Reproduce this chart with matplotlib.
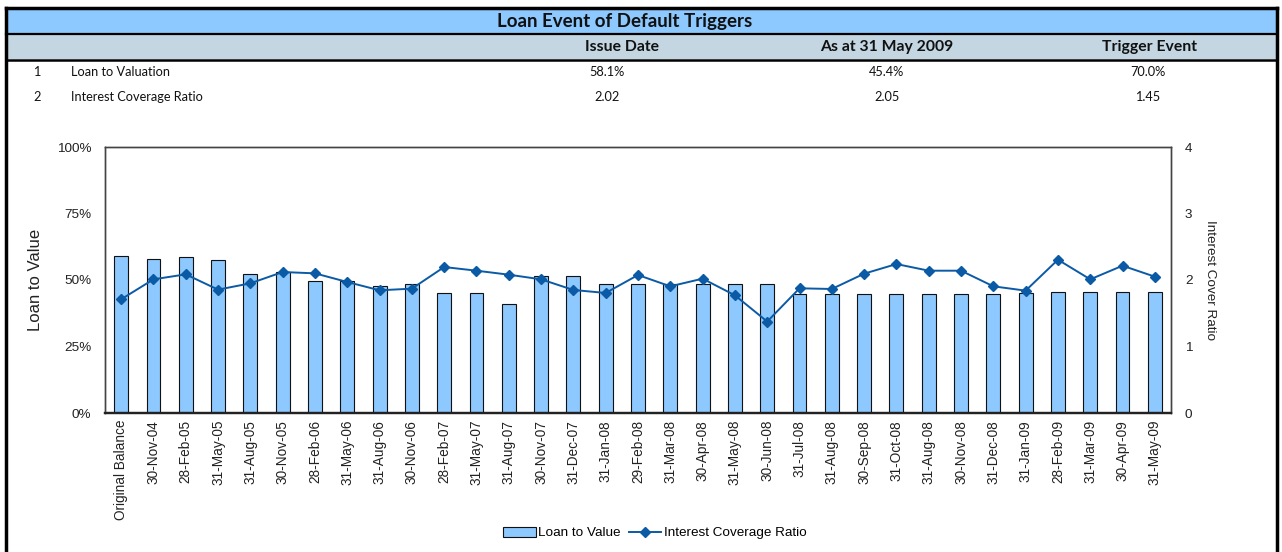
import matplotlib
matplotlib.use("Agg")
import matplotlib.pyplot as plt
import numpy as np
from matplotlib.patches import Rectangle
from matplotlib.lines import Line2D

categories = ["Original Balance", "30-Nov-04", "28-Feb-05", "31-May-05", "31-Aug-05",
              "30-Nov-05", "28-Feb-06", "31-May-06", "31-Aug-06", "30-Nov-06",
              "28-Feb-07", "31-May-07", "31-Aug-07", "30-Nov-07", "31-Dec-07",
              "31-Jan-08", "29-Feb-08", "31-Mar-08", "30-Apr-08", "31-May-08",
              "30-Jun-08", "31-Jul-08", "31-Aug-08", "30-Sep-08", "31-Oct-08",
              "31-Aug-08", "30-Nov-08", "31-Dec-08", "31-Jan-09", "28-Feb-09",
              "31-Mar-09", "30-Apr-09", "31-May-09"]

loan_to_value = [59.0, 58.0, 58.7, 57.6, 52.4, 53.0, 49.6, 49.6, 47.9, 48.6,
                 45.3, 45.3, 41.1, 51.6, 51.6, 48.6, 48.6, 48.6, 48.6, 48.6,
                 48.6, 44.6, 44.6, 44.6, 44.6, 44.6, 44.6, 44.6, 45.3, 45.4,
                 45.4, 45.4, 45.4]

icr = [1.71, 2.01, 2.085, 1.855, 1.95, 2.12, 2.10, 1.97, 1.845, 1.87,
       2.195, 2.14, 2.08, 2.01, 1.85, 1.805, 2.075, 1.905, 2.02, 1.77,
       1.375, 1.875, 1.865, 2.095, 2.24, 2.14, 2.14, 1.905, 1.84, 2.305,
       2.01, 2.215, 2.05]

table_header = ["Issue Date", "As at 31 May 2009", "Trigger Event"]
table_rows = [["1", "Loan to Valuation", "58.1%", "45.4%", "70.0%"],
              ["2", "Interest Coverage Ratio", "2.02", "2.05", "1.45"]]

W, H = 1282, 552
fig = plt.figure(figsize=(W / 100, H / 100), dpi=100)

def fx(px):
    return px / W

def fy(py):
    return 1 - py / H

# Outer frame
fig.add_artist(Line2D([fx(6), fx(6)], [fy(8), fy(552)], color="black", lw=2.5, transform=fig.transFigure))
fig.add_artist(Line2D([fx(1277), fx(1277)], [fy(8), fy(552)], color="black", lw=2.5, transform=fig.transFigure))
fig.add_artist(Line2D([fx(6), fx(1277)], [fy(8), fy(8)], color="black", lw=2.5, transform=fig.transFigure))

# Title bar and header band
fig.add_artist(Rectangle((fx(7), fy(33)), fx(1270), (33 - 9) / H, facecolor="#8DC8FE",
                         edgecolor="none", transform=fig.transFigure))
fig.add_artist(Rectangle((fx(7), fy(59)), fx(1270), (59 - 34) / H, facecolor="#C3D6E1",
                         edgecolor="none", transform=fig.transFigure))
fig.add_artist(Line2D([fx(6), fx(1277)], [fy(33.5), fy(33.5)], color="black", lw=1.6, transform=fig.transFigure))
fig.add_artist(Line2D([fx(6), fx(1277)], [fy(59.5), fy(59.5)], color="black", lw=1.8, transform=fig.transFigure))

fig.text(fx(625), fy(21), "Loan Event of Default Triggers", ha="center", va="center",
         fontsize=13.5, fontweight="bold", family="Lato", color="#111111")
for txt, x in zip(table_header, [622, 887, 1150]):
    fig.text(fx(x), fy(47), txt, ha="center", va="center", fontsize=11.3,
             fontweight="bold", family="Lato", color="#111111")

for row, y in zip(table_rows, [72, 97]):
    fig.text(fx(37), fy(y), row[0], ha="center", va="center", fontsize=9.2, family="Lato", color="#111111")
    fig.text(fx(71), fy(y), row[1], ha="left", va="center", fontsize=9.2, family="Lato", color="#111111")
    for v, x in zip(row[2:], [607, 887, 1148]):
        fig.text(fx(x), fy(y), v, ha="center", va="center", fontsize=9.2, family="Lato", color="#111111")

# Chart
ax = fig.add_axes([fx(105), 1 - 413 / H, (1171 - 105) / W, (413 - 147) / H])
x = np.arange(len(categories))
ax.bar(x, loan_to_value, width=0.43, color="#8DC8FE", edgecolor="#111111", linewidth=0.8,
       label="Loan to Value", zorder=2)
ax.set_xlim(-0.5, len(categories) - 0.5)
ax.set_ylim(0, 100)
ax.set_yticks([0, 25, 50, 75, 100])
ax.set_yticklabels(["0%", "25%", "50%", "75%", "100%"], fontsize=9.7, family="Liberation Sans", color="#222222")
ax.set_xticks(x)
ax.set_xticklabels(categories, rotation=90, fontsize=9.8, family="Liberation Sans", color="#222222")
ax.tick_params(axis="x", length=0, pad=5)
ax.tick_params(axis="y", length=0, pad=10)
ax.set_ylabel("Loan to Value", fontsize=12, family="Liberation Sans", color="#222222", labelpad=10)
for s in ax.spines.values():
    s.set_color("#444444")
    s.set_linewidth(1.0)
ax.spines["bottom"].set_linewidth(1.6)
ax.spines["bottom"].set_color("#222222")

ax2 = ax.twinx()
ax2.plot(x, icr, color="#0B5AA6", lw=1.4, marker="D", markersize=5.5,
         markerfacecolor="#0B5AA6", markeredgecolor="#0B5AA6", label="Interest Coverage Ratio", zorder=3)
ax2.set_ylim(0, 4)
ax2.set_yticks([0, 1, 2, 3, 4])
ax2.set_yticklabels(["0", "1", "2", "3", "4"], fontsize=9.7, family="Liberation Sans", color="#222222")
ax2.tick_params(axis="y", length=0, pad=10)
ax2.set_ylabel("Interest Cover Ratio", fontsize=9.7, family="Liberation Sans", color="#222222",
               rotation=270, labelpad=17)
for s in ax2.spines.values():
    s.set_color("#444444")
    s.set_linewidth(1.0)
ax2.spines["bottom"].set_linewidth(1.6)
ax2.spines["bottom"].set_color("#222222")

h1, l1 = ax.get_legend_handles_labels()
h2, l2 = ax2.get_legend_handles_labels()
fig.legend(h1 + h2, l1 + l2, loc="center", bbox_to_anchor=(fx(655), fy(533)), ncol=2,
           frameon=False, prop={"family": "Liberation Sans", "size": 9.7},
           handlelength=2.4, handleheight=0.8, columnspacing=0.6, handletextpad=0.2)

fig.savefig("out.png", dpi=100)
